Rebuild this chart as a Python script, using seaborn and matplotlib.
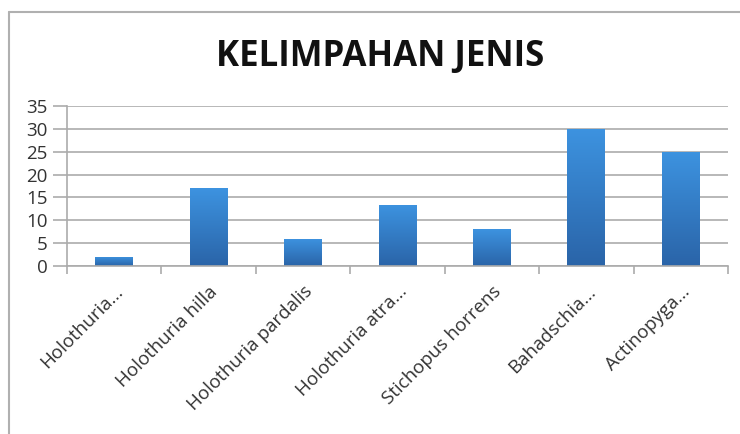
import numpy as np
import pandas as pd
import matplotlib
matplotlib.use("Agg")
import matplotlib.pyplot as plt
from matplotlib.colors import LinearSegmentedColormap
import seaborn as sns

categories = ["Holothuria...", "Holothuria hilla", "Holothuria pardalis",
              "Holothuria atra...", "Stichopus horrens", "Bahadschia...",
              "Actinopyga..."]
values = [2, 17, 6, 13.4, 8, 30, 25]
yticks = [0, 5, 10, 15, 20, 25, 30, 35]
title = "KELIMPAHAN JENIS"

sns.set_theme(style="white")
plt.rcParams['font.family'] = ['Open Sans', 'DejaVu Sans']

df = pd.DataFrame({"species": categories, "value": values})

fig = plt.figure(figsize=(7.4, 4.34), dpi=100)
ax = fig.add_axes([67/740, 1 - 266/434, (728-67)/740, (266-106)/434])

sns.barplot(data=df, x="species", y="value", ax=ax, color="#3a86d4",
            width=0.4, saturation=1)

ax.set_ylim(0, 35)
ax.set_xlim(-0.5, len(categories) - 0.5)
ax.set_yticks(yticks)
ax.set_yticklabels([str(t) for t in yticks], fontsize=13.5, color="#333333")
ax.yaxis.grid(True, color="#ababab", linewidth=1.2)
ax.set_axisbelow(True)
ax.set_xlabel("")
ax.set_ylabel("")

# gradient fill on bars
cmap = LinearSegmentedColormap.from_list("g", ["#2a64a8", "#3d93e0"])
grad = np.linspace(0, 1, 256).reshape(-1, 1)
for p in ax.patches:
    x0, y0 = p.get_x(), p.get_y()
    w, h = p.get_width(), p.get_height()
    im = ax.imshow(grad, extent=[x0, x0 + w, y0, y0 + h], origin="lower",
                   aspect="auto", cmap=cmap, zorder=p.get_zorder())
    im.set_clip_path(p)
    p.set_facecolor("none")
    p.set_edgecolor("none")
ax.set_xlim(-0.5, len(categories) - 0.5)
ax.set_ylim(0, 35)

for s in ["top", "right"]:
    ax.spines[s].set_visible(False)
ax.spines["left"].set_color("#ababab")
ax.spines["bottom"].set_color("#ababab")
ax.spines["left"].set_linewidth(1.2)
ax.spines["bottom"].set_linewidth(1.2)

ax.tick_params(axis="y", which="major", left=True, length=10, width=1.2,
               color="#ababab", pad=4)
ax.set_xticks(np.arange(len(categories)))
ax.set_xticklabels(categories, rotation=45, ha="right", rotation_mode="anchor",
                   fontsize=13.5, color="#333333")
ax.tick_params(axis="x", which="major", bottom=False, pad=6)
ax.set_xticks(np.arange(-0.5, len(categories)), minor=True)
ax.tick_params(axis="x", which="minor", bottom=True, length=6, width=1.2,
               color="#ababab")

fig.text(380/740, 1 - 57/434, title, ha="center", va="center",
         fontsize=25, fontweight="bold", color="#111111")

fig.add_artist(plt.Line2D([9/740, 1], [1 - 12/434, 1 - 12/434],
                          transform=fig.transFigure, color="#b0b0b0", lw=1.5))
fig.add_artist(plt.Line2D([9/740, 9/740], [0, 1 - 12/434],
                          transform=fig.transFigure, color="#b0b0b0", lw=1.5))

fig.savefig("out.png", dpi=100)
